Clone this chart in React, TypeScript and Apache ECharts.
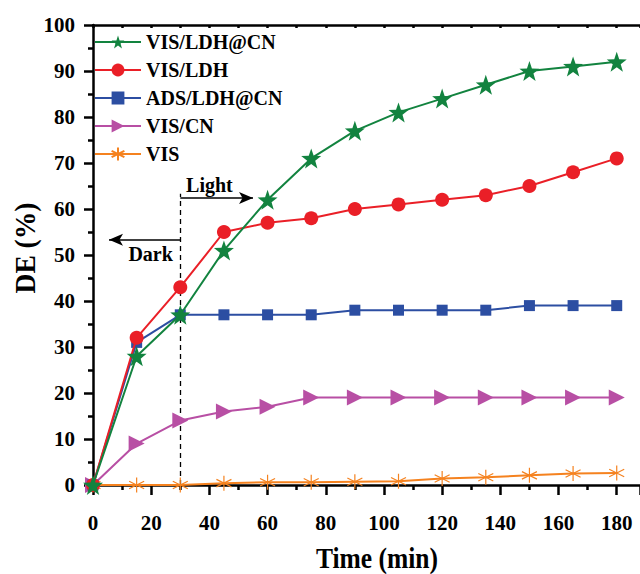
import React, { useEffect, useRef } from "react";
import * as echarts from "echarts";

const times = [0, 15, 30, 45, 60, 75, 90, 105, 120, 135, 150, 165, 180];
const visLdhCn = [0, 28, 37, 51, 62, 71, 77, 81, 84, 87, 90, 91, 92];
const visLdh = [0, 32, 43, 55, 57, 58, 60, 61, 62, 63, 65, 68, 71];
const adsLdhCn = [0, 31, 37, 37, 37, 37, 38, 38, 38, 38, 39, 39, 39];
const visCn = [0, 9, 14, 16, 17, 19, 19, 19, 19, 19, 19, 19, 19];
const visOnly = [0, 0, 0, 0.4, 0.6, 0.6, 0.7, 0.8, 1.4, 1.7, 2.1, 2.5, 2.6];

const seriesNames = ["VIS/LDH@CN", "VIS/LDH", "ADS/LDH@CN", "VIS/CN", "VIS"];
const seriesColors = ["#12833f", "#ea1f27", "#2c4ea2", "#b84fa4", "#f5821f"];

const FONT = "Liberation Serif";

const STAR =
  "path://M0,-10L2.35,-3.24L9.51,-3.09L3.8,1.24L5.88,8.09L0,4L-5.88,8.09L-3.8,1.24L-9.51,-3.09L-2.35,-3.24Z";
const TRI_RIGHT = "path://M0,0L10,5L0,10Z";
const ASTERISK = "path://M0,-10L0,10M-8.66,-5L8.66,5M-8.66,5L8.66,-5";

const pairs = (ys: number[]) => times.map((t, i) => [t, ys[i]]);

export default function App() {
  const ref = useRef<HTMLDivElement>(null);

  useEffect(() => {
    document.body.style.margin = "0";
    if (!ref.current) return;
    const chart = echarts.init(ref.current, undefined, { renderer: "svg" });

    const mk = (
      idx: number,
      ys: number[],
      symbol: string,
      size: number,
      extra: any = {}
    ) => ({
      name: seriesNames[idx],
      type: "line",
      data: pairs(ys),
      symbol,
      symbolSize: size,
      showAllSymbol: true,
      lineStyle: { color: seriesColors[idx], width: 2 },
      itemStyle: { color: seriesColors[idx] },
      z: 10 - idx,
      ...extra,
    });

    const xBase = {
      type: "value",
      min: 0,
      max: 188,
      interval: 20,
      axisLine: { show: true, onZero: false, lineStyle: { color: "#000", width: 2.5 } },
      splitLine: { show: false },
    };

    const titleStyle = {
      fontFamily: FONT,
      fontWeight: "bold",
      fontSize: 29,
      fill: "#000",
      align: "center",
      verticalAlign: "middle",
    };

    chart.setOption({
      animation: false,
      grid: {
        left: 93,
        top: 25,
        right: 0,
        bottom: 89,
        containLabel: false,
        outerBoundsMode: "none",
      },
      legend: {
        orient: "vertical",
        left: 94,
        top: 32,
        padding: 0,
        itemWidth: 46,
        itemHeight: 16,
        itemGap: 8,
        textStyle: { fontFamily: FONT, fontWeight: "bold", fontSize: 20, color: "#000" },
        data: seriesNames,
      },
      graphic: [
        {
          type: "text",
          x: 377,
          y: 558,
          scaleX: 0.88,
          style: { ...titleStyle, text: "Time (min)" },
        },
        {
          type: "text",
          x: 25,
          y: 248,
          rotation: Math.PI / 2,
          scaleX: 0.95,
          style: { ...titleStyle, text: "DE (%)" },
        },
      ],
      xAxis: [
        {
          ...xBase,
          position: "bottom",
          axisTick: { show: true, inside: false, length: 10, lineStyle: { color: "#000", width: 2.5 } },
          minorTick: { show: true, splitNumber: 2, length: 5, lineStyle: { color: "#000", width: 2.5 } },
          axisLabel: {
            showMaxLabel: false,
            margin: 27,
            fontFamily: FONT,
            fontWeight: "bold",
            fontSize: 21,
            color: "#000",
          },
        },
        {
          ...xBase,
          position: "top",
          axisTick: { show: true, inside: true, length: 3, lineStyle: { color: "#000", width: 2.5 } },
          minorTick: { show: true, splitNumber: 2, length: 3, lineStyle: { color: "#000", width: 2.5 } },
          axisLabel: { show: false },
        },
      ],
      yAxis: {
        type: "value",
        min: 0,
        max: 100,
        interval: 10,
        axisLine: { show: true, onZero: false, lineStyle: { color: "#000", width: 2.5 } },
        axisTick: { show: true, inside: false, length: 9, lineStyle: { color: "#000", width: 2.5 } },
        minorTick: { show: true, splitNumber: 2, length: 5, lineStyle: { color: "#000", width: 2.5 } },
        splitLine: { show: false },
        axisLabel: {
          margin: 18,
          fontFamily: FONT,
          fontWeight: "bold",
          fontSize: 21,
          color: "#000",
        },
      },
      series: [
        mk(0, visLdhCn, STAR, 20),
        mk(1, visLdh, "circle", 14),
        mk(2, adsLdhCn, "rect", 11),
        mk(3, visCn, TRI_RIGHT, 16),
        mk(4, visOnly, ASTERISK, 15, {
          itemStyle: { color: "none", borderColor: seriesColors[4], borderWidth: 1.2 },
          markLine: {
            silent: true,
            symbol: "none",
            label: { show: false },
            lineStyle: { color: "#000", width: 1.3, type: [5, 4] },
            data: [
              [
                { coord: [30, 0] },
                { coord: [30, 63.3] },
              ],
              [
                { coord: [30, 62.4], symbol: "none", lineStyle: { type: "solid", width: 1.5 } },
                { coord: [55, 62.4], symbol: "arrow", symbolSize: [9, 14] },
              ],
              [
                { coord: [30, 53.3], symbol: "none", lineStyle: { type: "solid", width: 1.5 } },
                { coord: [5.5, 53.3], symbol: "arrow", symbolSize: [9, 14] },
              ],
            ],
          },
          markPoint: {
            silent: true,
            symbol: "circle",
            symbolSize: 0,
            label: {
              show: true,
              fontFamily: FONT,
              fontWeight: "bold",
              fontSize: 20,
              color: "#000",
              formatter: (p: any) => p.name,
            },
            data: [
              { name: "Light", coord: [40, 65.3] },
              { name: "Dark", coord: [19.8, 50.3] },
            ],
          },
        }),
      ],
    });

    return () => chart.dispose();
  }, []);

  return <div ref={ref} style={{ width: 640, height: 574 }} />;
}
